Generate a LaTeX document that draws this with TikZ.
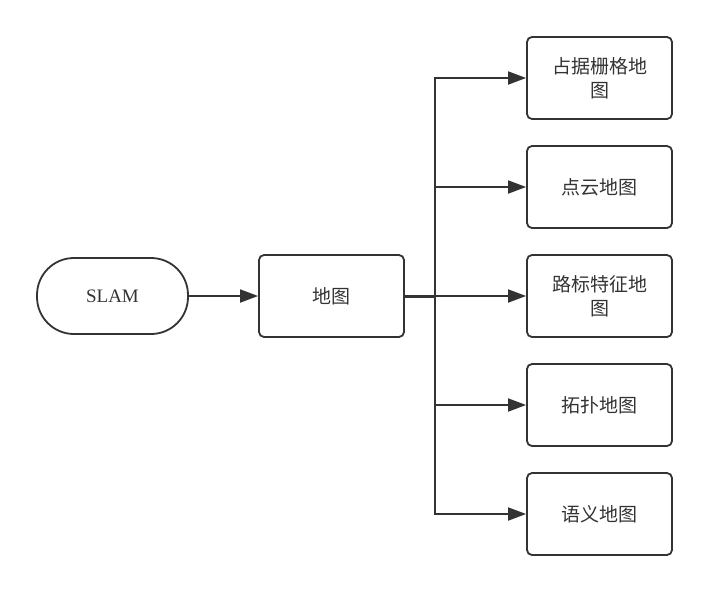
\documentclass[tikz,border=0pt]{standalone}
\usepackage{fontspec}
\setmainfont{Liberation Serif}
\newfontfamily\cjk{Noto Sans CJK SC}
\usetikzlibrary{arrows.meta}
\definecolor{ink}{HTML}{333333}
\tikzset{
  box/.style={draw=ink, line width=1.8pt, rounded corners=5pt, minimum width=145pt, minimum height=82pt, inner sep=0pt, align=center, font=\cjk\fontsize{19}{24}\selectfont, text=ink},
  term/.style={draw=ink, line width=1.8pt, rounded corners=37pt, minimum width=151pt, minimum height=76pt, inner sep=0pt, font=\fontsize{19}{22}\selectfont, text=ink},
  conn/.style={draw=ink, line width=1.8pt, -{Triangle[length=18pt,width=13pt]}},
  bus/.style={draw=ink, line width=1.8pt}
}
\begin{document}
\begin{tikzpicture}[x=1pt,y=-1pt]
\useasboundingbox (0,0) rectangle (709,592);
\node[term] (slam) at (112.5,296) {SLAM};
\node[box] (map) at (331.5,296) {地图};
\node[box] (m1) at (599.5,78) {占据栅格地\\图};
\node[box] (m2) at (599.5,187) {点云地图};
\node[box] (m3) at (599.5,296) {路标特征地\\图};
\node[box] (m4) at (599.5,405) {拓扑地图};
\node[box] (m5) at (599.5,514) {语义地图};
\coordinate (j) at (435,296);
\coordinate (top) at (435,78);
\coordinate (bot) at (435,514);
\draw[conn] (slam) -- (map);
\draw[bus, line width=3pt] (map.east) -- (j);
\draw[bus, line cap=rect] (top) -- (bot);
\foreach \n in {m1,m2,m3,m4,m5}{
  \draw[conn] (top |- \n.west) -- (\n.west);
}
\end{tikzpicture}
\end{document}
